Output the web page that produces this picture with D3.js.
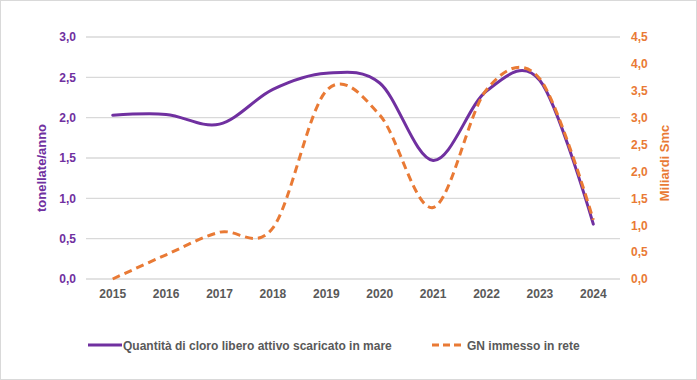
<!DOCTYPE html>
<html><head><meta charset="utf-8">
<script src="https://cdn.jsdelivr.net/npm/d3@7"></script>
<style>body{margin:0;background:#fff}svg{display:block}text{font-family:"Liberation Sans",Arial,sans-serif;font-weight:bold}</style>
</head><body>
<svg id="c" width="697" height="380"></svg>
<script>
const years = ["2015","2016","2017","2018","2019","2020","2021","2022","2023","2024"];
const cloro = [2.03,2.04,1.92,2.35,2.55,2.43,1.47,2.33,2.46,0.68];
const gn = [0.0,0.45,0.87,0.95,3.5,3.05,1.33,3.52,3.72,1.1];
const leftTicks = [0,0.5,1,1.5,2,2.5,3];
const rightTicks = [0,0.5,1,1.5,2,2.5,3,3.5,4,4.5];
const seriesNames = ["Quantità di cloro libero attivo scaricato in mare","GN immesso in rete"];
const leftTitle = "tonellate/anno", rightTitle = "Miliardi Smc";

const purple = "#7030A0", orange = "#E97A35", grid = "#d9d9d9", gray = "#595959";
const svg = d3.select("#c");
svg.append("rect").attr("x",0.5).attr("y",0.5).attr("width",696).attr("height",379).attr("fill","#fff").attr("stroke","#d9d9d9");
const L = 86, R = 620, T = 37, B = 279;
const x = d3.scaleBand().domain(years).range([L,R]);
const yL = d3.scaleLinear().domain([0,3]).range([B,T]);
const yR = d3.scaleLinear().domain([0,4.5]).range([B,T]);
const fmt = v => d3.format(".1f")(v).replace(".",",");

svg.append("g").selectAll("line").data(leftTicks).join("line")
  .attr("x1",L).attr("x2",R).attr("y1",d=>yL(d)).attr("y2",d=>yL(d))
  .attr("stroke",grid).attr("stroke-width",1.3);

const axL = svg.append("g").attr("transform",`translate(${L},0)`)
  .call(d3.axisLeft(yL).tickValues(leftTicks).tickFormat(fmt).tickSize(0).tickPadding(10));
axL.select(".domain").remove();
axL.selectAll("text").attr("fill",purple).attr("font-size",12).style("font-family","Liberation Sans").style("font-weight","bold");

const axR = svg.append("g").attr("transform",`translate(${R},0)`)
  .call(d3.axisRight(yR).tickValues(rightTicks).tickFormat(fmt).tickSize(0).tickPadding(11));
axR.select(".domain").remove();
axR.selectAll("text").attr("fill",orange).attr("font-size",12).style("font-family","Liberation Sans").style("font-weight","bold");

const axB = svg.append("g").attr("transform",`translate(0,${B})`)
  .call(d3.axisBottom(x).tickSize(0).tickPadding(10));
axB.select(".domain").remove();
axB.selectAll("text").attr("fill",gray).attr("font-size",12).style("font-family","Liberation Sans").style("font-weight","bold");

svg.append("text").attr("transform","translate(46,168) rotate(-90)").attr("text-anchor","middle")
  .attr("fill",purple).attr("font-size",13).text(leftTitle);
svg.append("text").attr("transform","translate(669,163) rotate(-90)").attr("text-anchor","middle")
  .attr("fill",orange).attr("font-size",13).text(rightTitle);

const cx = d => x(d) + x.bandwidth()/2;
const lineL = d3.line().x((d,i)=>cx(years[i])).y(d=>yL(d)).curve(d3.curveCatmullRom.alpha(0));
const lineR = d3.line().x((d,i)=>cx(years[i])).y(d=>yR(d)).curve(d3.curveCatmullRom.alpha(0));

svg.append("path").attr("d",lineL(cloro)).attr("fill","none").attr("stroke",purple).attr("stroke-width",3).attr("stroke-linecap","round");
svg.append("path").attr("d",lineR(gn)).attr("fill","none").attr("stroke",orange).attr("stroke-width",3).attr("stroke-dasharray","8,5");

const ly = 345;
svg.append("line").attr("x1",88).attr("x2",122).attr("y1",ly).attr("y2",ly).attr("stroke",purple).attr("stroke-width",3);
svg.append("text").attr("x",123).attr("y",ly+4.5).attr("fill",gray).attr("font-size",12).text(seriesNames[0]);
svg.append("line").attr("x1",432).attr("x2",465).attr("y1",ly).attr("y2",ly).attr("stroke",orange).attr("stroke-width",3).attr("stroke-dasharray","7,4");
svg.append("text").attr("x",467).attr("y",ly+4.5).attr("fill",gray).attr("font-size",12).text(seriesNames[1]);
</script>
</body></html>
